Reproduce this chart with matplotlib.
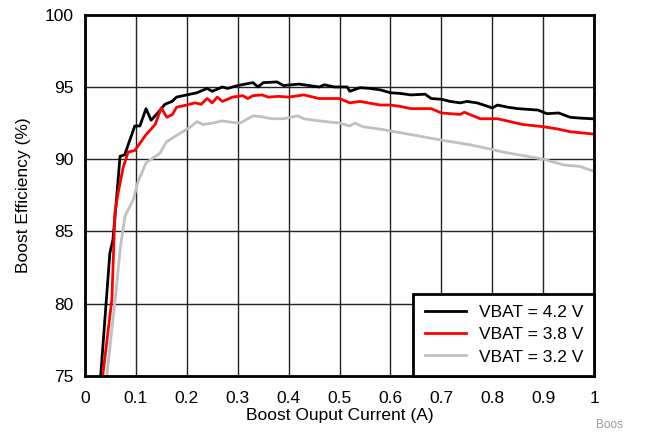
import numpy as np
import matplotlib.pyplot as plt

plt.rcParams['font.family'] = ['Liberation Sans', 'DejaVu Sans']

# VBAT = 4.2 V
x42 = [0.031, 0.049, 0.055, 0.062, 0.069, 0.078, 0.088, 0.098, 0.108, 0.12, 0.13, 0.143,
       0.157, 0.171, 0.18, 0.2, 0.22, 0.24, 0.25, 0.27, 0.28, 0.3, 0.33, 0.34, 0.35, 0.377,
       0.39, 0.42, 0.44, 0.46, 0.47, 0.49, 0.515, 0.52, 0.54, 0.56, 0.58, 0.6, 0.62, 0.64,
       0.668, 0.68, 0.7, 0.717, 0.737, 0.75, 0.77, 0.8, 0.81, 0.83, 0.85, 0.87, 0.89, 0.907,
       0.93, 0.953, 0.97, 0.996]
y42 = [75.0, 83.5, 84.4, 87.2, 90.2, 90.3, 91.3, 92.3, 92.3, 93.5, 92.7, 93.2,
       93.8, 94.0, 94.3, 94.45, 94.6, 94.9, 94.7, 95.0, 94.9, 95.1, 95.3, 95.0, 95.3, 95.35,
       95.1, 95.2, 95.1, 95.0, 95.15, 95.0, 95.0, 94.7, 94.95, 94.9, 94.8, 94.6, 94.55, 94.45,
       94.5, 94.2, 94.15, 94.0, 93.9, 94.0, 93.9, 93.55, 93.75, 93.6, 93.5, 93.45, 93.4, 93.15,
       93.2, 92.9, 92.85, 92.8]

# VBAT = 3.8 V
x38 = [0.035, 0.053, 0.059, 0.066, 0.075, 0.085, 0.098, 0.108, 0.12, 0.138, 0.15, 0.161,
       0.172, 0.18, 0.2, 0.216, 0.228, 0.24, 0.25, 0.26, 0.27, 0.29, 0.31, 0.32, 0.33, 0.348,
       0.36, 0.38, 0.4, 0.43, 0.46, 0.5, 0.52, 0.54, 0.58, 0.6, 0.62, 0.64, 0.68, 0.7,
       0.737, 0.745, 0.776, 0.81, 0.835, 0.86, 0.9, 0.927, 0.953, 0.996]
y38 = [75.0, 80.3, 86.3, 87.8, 89.4, 90.5, 90.6, 91.1, 91.7, 92.4, 93.55, 92.9,
       93.1, 93.6, 93.75, 93.9, 93.8, 94.2, 93.9, 94.3, 94.0, 94.3, 94.4, 94.2, 94.4, 94.45,
       94.3, 94.35, 94.3, 94.45, 94.2, 94.2, 93.9, 94.0, 93.75, 93.75, 93.65, 93.5, 93.5, 93.2,
       93.1, 93.25, 92.8, 92.8, 92.6, 92.4, 92.25, 92.1, 91.9, 91.75]

# VBAT = 3.2 V
x32 = [0.043, 0.06, 0.07, 0.079, 0.088, 0.095, 0.104, 0.12, 0.147, 0.16, 0.187, 0.206,
       0.22, 0.232, 0.25, 0.27, 0.29, 0.305, 0.33, 0.345, 0.367, 0.39, 0.418, 0.43, 0.46,
       0.5, 0.52, 0.53, 0.546, 0.585, 0.625, 0.664, 0.703, 0.756, 0.796, 0.82, 0.868, 0.9,
       0.94, 0.972, 0.996]
y32 = [75.0, 80.5, 84.0, 86.1, 86.7, 87.2, 88.4, 89.75, 90.4, 91.2, 91.8, 92.2,
       92.6, 92.4, 92.5, 92.65, 92.55, 92.5, 93.0, 92.95, 92.8, 92.8, 93.0, 92.8, 92.65,
       92.5, 92.3, 92.5, 92.25, 92.05, 91.8, 91.55, 91.3, 91.0, 90.7, 90.5, 90.2, 90.0,
       89.6, 89.5, 89.2]

fig = plt.figure(figsize=(6.48, 4.34), dpi=100)
ax = fig.add_axes([0.131, 0.134, 0.786, 0.832])

ax.plot(x42, y42, color='black', lw=2, label='VBAT = 4.2 V')
ax.plot(x38, y38, color='#ff0000', lw=2, label='VBAT = 3.8 V')
ax.plot(x32, y32, color='#c0c0c0', lw=2, label='VBAT = 3.2 V')

ax.set_xlim(0, 1)
ax.set_ylim(75, 100)
ax.set_xticks(np.arange(0, 1.01, 0.1))
ax.set_xticklabels(['0', '0.1', '0.2', '0.3', '0.4', '0.5', '0.6', '0.7', '0.8', '0.9', '1'])
ax.set_yticks([75, 80, 85, 90, 95, 100])
ax.tick_params(axis='x', length=0, labelsize=12.5, pad=11)
ax.tick_params(axis='y', length=0, labelsize=12.5, pad=8)
ax.grid(True, color='#222222', lw=1)
for s in ax.spines.values():
    s.set_linewidth(2)
ax.set_xlabel('Boost Ouput Current (A)', fontsize=12.5, labelpad=1)
ax.set_ylabel('Boost Efficiency (%)', fontsize=12.5, labelpad=10)

leg = ax.legend(loc='lower right', fontsize=12.5, fancybox=False, framealpha=1,
                edgecolor='black', borderaxespad=0, handlelength=2.4,
                labelspacing=0.4, borderpad=0.65, handletextpad=0.7)
leg.get_frame().set_linewidth(2)

fig.text(0.962, 0.008, 'Boos', fontsize=8.5, color='#999999', ha='right', va='bottom')

fig.savefig('out.png', dpi=100)
